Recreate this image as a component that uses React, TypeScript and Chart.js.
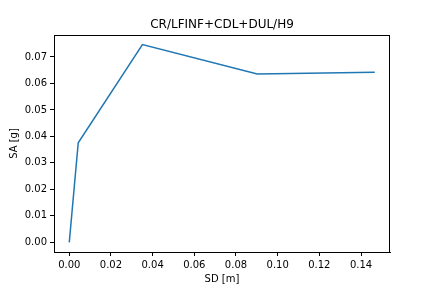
import React, { useEffect, useRef } from "react";
import { Chart, registerables } from "chart.js";

Chart.register(...registerables);

const sdValues = [0.0, 0.0043, 0.0351, 0.0902, 0.1466];
const saValues = [0.0, 0.0376, 0.0747, 0.0636, 0.0642];
const xTicks = [0.0, 0.02, 0.04, 0.06, 0.08, 0.1, 0.12, 0.14];
const yTicks = [0.0, 0.01, 0.02, 0.03, 0.04, 0.05, 0.06, 0.07];
const titleText = "CR/LFINF+CDL+DUL/H9";
const xLabel = "SD [m]";
const yLabel = "SA [g]";

const FONT = "'DejaVu Sans', sans-serif";

const framePlugin = {
  id: "frame",
  afterDraw(chart: any) {
    const { ctx, chartArea } = chart;
    ctx.save();
    ctx.strokeStyle = "#000";
    ctx.lineWidth = 1;
    ctx.beginPath();
    ctx.moveTo(chartArea.left, chartArea.top + 0.5);
    ctx.lineTo(chartArea.right, chartArea.top + 0.5);
    ctx.moveTo(chartArea.right - 0.5, chartArea.top);
    ctx.lineTo(chartArea.right - 0.5, chartArea.bottom);
    ctx.stroke();
    ctx.restore();
  },
};

export default function App() {
  const ref = useRef<HTMLCanvasElement | null>(null);
  useEffect(() => {
    if (!ref.current) return;
    const chart = new Chart(ref.current, {
      type: "line",
      data: {
        datasets: [
          {
            data: sdValues.map((x, i) => ({ x, y: saValues[i] })),
            borderColor: "#1f77b4",
            borderWidth: 1.5,
            pointRadius: 0,
            fill: false,
            tension: 0,
          },
        ],
      },
      options: {
        animation: false,
        responsive: false,
        layout: { padding: { top: 0, right: 42, bottom: 0, left: 0 } },
        plugins: {
          legend: { display: false },
          tooltip: { enabled: false },
          title: {
            display: true,
            text: titleText,
            fullSize: false,
            color: "#000",
            font: { family: FONT, size: 12, weight: "normal", lineHeight: 1.2 },
            padding: { top: 17.5, bottom: 3.1 },
          },
        },
        scales: {
          x: {
            type: "linear",
            min: -0.00733,
            max: 0.1539,
            afterBuildTicks: (scale: any) => {
              scale.ticks = xTicks.map((v) => ({ value: v }));
            },
            afterFit: (scale: any) => {
              scale.height = 36;
            },
            grid: { display: true, drawOnChartArea: false, drawTicks: true, tickLength: 4, color: "#000" },
            border: { display: true, color: "#000", width: 1 },
            ticks: {
              color: "#000",
              padding: 3,
              maxRotation: 0,
              autoSkip: false,
              font: { family: FONT, size: 10 },
              callback: (v: any) => Number(v).toFixed(2),
            },
            title: {
              display: true,
              text: xLabel,
              color: "#000",
              font: { family: FONT, size: 10, lineHeight: 1.2 },
              padding: { top: 0, bottom: 3 },
            },
          },
          y: {
            type: "linear",
            min: -0.00366,
            max: 0.0783,
            afterBuildTicks: (scale: any) => {
              scale.ticks = yTicks.map((v) => ({ value: v }));
            },
            afterFit: (scale: any) => {
              scale.width = 54;
            },
            grid: { display: true, drawOnChartArea: false, drawTicks: true, tickLength: 4, color: "#000" },
            border: { display: true, color: "#000", width: 1 },
            ticks: {
              color: "#000",
              padding: 3,
              autoSkip: false,
              font: { family: FONT, size: 10 },
              callback: (v: any) => Number(v).toFixed(2),
            },
            title: {
              display: true,
              text: yLabel,
              color: "#000",
              font: { family: FONT, size: 10, lineHeight: 1.2 },
              padding: { top: 8, bottom: 0 },
            },
          },
        },
      },
      plugins: [framePlugin],
    } as any);
    return () => chart.destroy();
  }, []);
  return (
    <div style={{ position: "absolute", left: 0, top: 0, width: 432, height: 288, background: "#fff" }}>
      <canvas ref={ref} width={432} height={288} style={{ display: "block", width: 432, height: 288 }} />
    </div>
  );
}
